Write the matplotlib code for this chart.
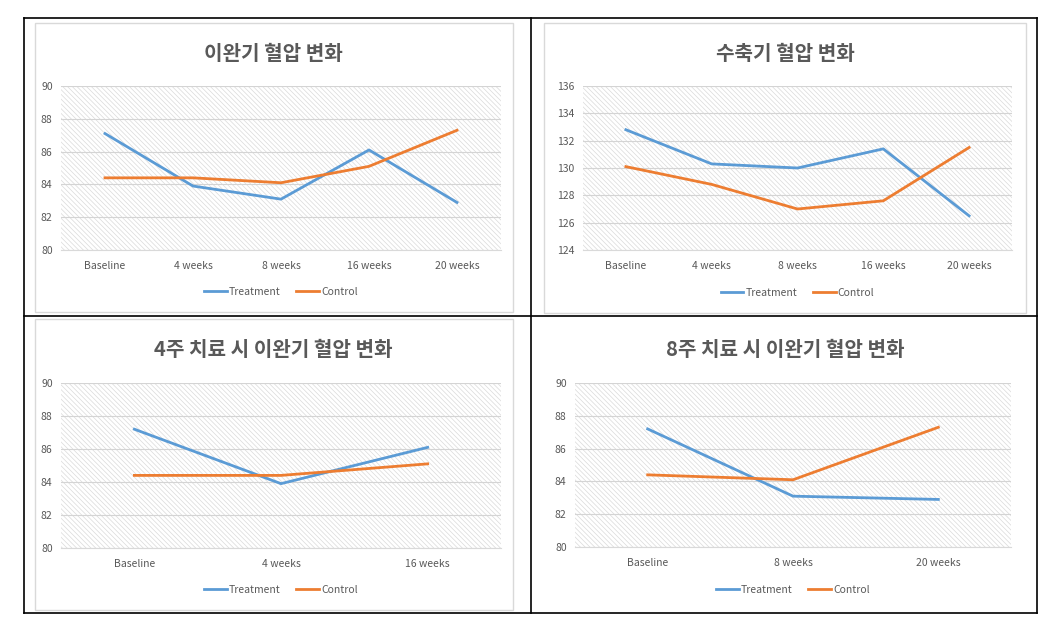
import matplotlib.pyplot as plt
from matplotlib.patches import Rectangle
from matplotlib.lines import Line2D

plt.rcParams['font.family'] = ['Noto Sans CJK KR', 'DejaVu Sans']
plt.rcParams['hatch.linewidth'] = 0.5
plt.rcParams['hatch.color'] = '#dadada'

W, H = 1051, 621

# data
weeks_all = ['Baseline', '4 weeks', '8 weeks', '16 weeks', '20 weeks']
dia_treat = [87.1, 83.9, 83.1, 86.1, 82.9]
dia_ctrl = [84.4, 84.4, 84.1, 85.1, 87.3]

sys_treat = [132.8, 130.3, 130.0, 131.4, 126.5]
sys_ctrl = [130.1, 128.8, 127.0, 127.6, 131.5]

weeks_4 = ['Baseline', '4 weeks', '16 weeks']
w4_treat = [87.2, 83.9, 86.1]
w4_ctrl = [84.4, 84.4, 85.1]

weeks_8 = ['Baseline', '8 weeks', '20 weeks']
w8_treat = [87.2, 83.1, 82.9]
w8_ctrl = [84.4, 84.1, 87.3]

BLUE = '#5B9BD5'
ORANGE = '#ED7D31'
GRAY = '#595959'


def fbox(x0, y0, x1, y1):
    # pixel box -> figure fraction rect
    return [x0 / W, 1 - y1 / H, (x1 - x0) / W, (y1 - y0) / H]


def panel(fig, plot_px, frame_px, title, title_xy, legend_y, cats, treat, ctrl, ylim):
    x0, y0, x1, y1 = plot_px
    if frame_px is not None:
        fx0, fy0, fx1, fy1 = frame_px
        fig.patches.append(Rectangle((fx0 / W, 1 - fy1 / H), (fx1 - fx0) / W, (fy1 - fy0) / H,
                                     transform=fig.transFigure, fill=False,
                                     edgecolor='#d9d9d9', linewidth=1.0))
    ax = fig.add_axes(fbox(x0, y0, x1, y1))
    ax.add_patch(Rectangle((0, 0), 1, 1, transform=ax.transAxes, facecolor='white',
                           hatch='\\' * 7, edgecolor='#dadada', linewidth=0, zorder=0))
    xs = list(range(len(cats)))
    ax.plot(xs, treat, color=BLUE, linewidth=2, zorder=3)
    ax.plot(xs, ctrl, color=ORANGE, linewidth=2, zorder=3)
    ax.set_xlim(-0.5, len(cats) - 0.5)
    ax.set_ylim(*ylim)
    ax.set_yticks(range(ylim[0], ylim[1] + 1, 2))
    ax.set_xticks(xs)
    ax.set_xticklabels(cats)
    ax.tick_params(length=0, labelsize=7.5, labelcolor=GRAY, pad=8)
    ax.tick_params(axis='y', pad=6)
    ax.grid(axis='y', color='#d4d4d4', linewidth=0.8, zorder=1)
    ax.set_axisbelow(True)
    for s in ['top', 'right', 'left']:
        ax.spines[s].set_visible(False)
    ax.spines['bottom'].set_color('#d9d9d9')
    fig.text(title_xy[0] / W, 1 - title_xy[1] / H, title, ha='center', va='center',
             fontsize=14.5, fontweight='bold', color=GRAY)
    handles = [Line2D([], [], color=BLUE, linewidth=2), Line2D([], [], color=ORANGE, linewidth=2)]
    fig.legend(handles, ['Treatment', 'Control'], loc='center',
               bbox_to_anchor=((x0 + x1) / 2 / W, 1 - legend_y / H), ncol=2, frameon=False,
               fontsize=7.5, labelcolor=GRAY, handlelength=2.2, handletextpad=0.2,
               columnspacing=1.5)
    return ax


fig = plt.figure(figsize=(W / 100, H / 100), dpi=100)

panel(fig, (61, 86, 501, 250), (35, 23, 513, 312), '이완기 혈압 변화', (273, 53), 292,
      weeks_all, dia_treat, dia_ctrl, (80, 90))
panel(fig, (583, 86, 1012, 250), (544, 23, 1026, 313), '수축기 혈압 변화', (785, 53), 293,
      weeks_all, sys_treat, sys_ctrl, (124, 136))
panel(fig, (61, 383, 501, 548), (35, 319, 513, 610), '4주 치료 시 이완기 혈압 변화', (273, 350), 590,
      weeks_4, w4_treat, w4_ctrl, (80, 90))
panel(fig, (575, 383, 1011, 547), None, '8주 치료 시 이완기 혈압 변화', (785, 350), 590,
      weeks_8, w8_treat, w8_ctrl, (80, 90))

# outer table lines
for xa, ya, xb, yb in [(24, 18, 1037, 18), (24, 316, 1037, 316), (24, 613, 1037, 613),
                       (24, 18, 24, 613), (531, 18, 531, 613), (1037, 18, 1037, 613)]:
    fig.add_artist(Line2D([xa / W, xb / W], [1 - ya / H, 1 - yb / H], color='black',
                          linewidth=1.2, transform=fig.transFigure))

fig.savefig('out.png', dpi=100)
